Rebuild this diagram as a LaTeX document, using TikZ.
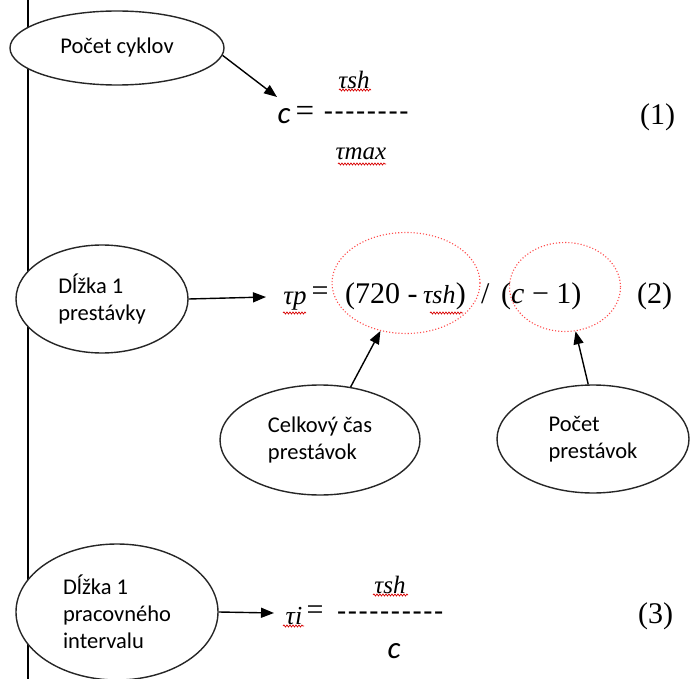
\documentclass[tikz,border=0pt]{standalone}
\usepackage{fontspec}
\newfontfamily\carl{Carlito}
\newfontfamily\tms{Liberation Serif}
\usetikzlibrary{shapes.geometric,arrows.meta,decorations.pathmorphing}
\newcommand\hy{-\kern1.6pt}
\begin{document}
\begin{tikzpicture}[x=1pt,y=-1pt,
  oval/.style={ellipse,draw=black!85,fill=white,line width=1.4pt,inner sep=0pt,align=left,font=\carl\fontsize{22.5}{27}\selectfont},
  hole/.style={ellipse,draw=red!70,dotted,line width=1.1pt,inner sep=0pt},
  arr/.style={-{Triangle[length=13pt,width=10pt]},line width=1.4pt},
  ser/.style={inner sep=0pt,font=\tms\fontsize{30}{30}\selectfont},
  tau/.style={inner sep=0pt,font=\tms\itshape\fontsize{25}{25}\selectfont},
  san/.style={inner sep=0pt,font=\carl\fontsize{30}{30}\selectfont},
  sq/.style={red!85!black,line width=0.7pt,decorate,decoration={snake,amplitude=1pt,segment length=3pt}},
]
\useasboundingbox (0,0) rectangle (691,679);
\fill[white] (0,0) rectangle (691,679);
% vertical rule
\coordinate (vtop) at (28,0);
\coordinate (vbot) at (28,679);
\draw[line width=1.4pt] (vtop) -- (vbot);

% ---------- equation (1)
\node[oval,minimum width=214pt,minimum height=74pt] (e1) at (117,48) {Počet cyklov};
\node[san,font=\carl\itshape\fontsize{31}{31}\selectfont] (c1) at (284,116) {c};
\node[ser,font=\tms\fontsize{33}{33}\selectfont] (eqa) at (305,114) {=};
\node[san] (d1) at (367,117) {\hy\hy\hy\hy\hy\hy\hy\hy};
\node[tau] (n1) at (354,80) {τsh};
\node[tau] (m1) at (361,154) {τmax};
\node[ser,anchor=base west] (l1) at (640,125) {(1)};
\coordinate (t1) at (277,97);
\draw[arr] (e1.-4) -- (t1);
\draw[sq] (339,90) -- (371,90);
\draw[sq] (338,164) -- (386,164);

% ---------- equation (2)
\node[oval,minimum width=172pt,minimum height=108pt] (e2) at (102,299) {Dĺžka 1\\prestávky};
\node[tau,font=\tms\itshape\fontsize{27}{27}\selectfont] (tp) at (295,301) {τp};
\node[ser] (eqb) at (320,294) {=};
\node[ser,anchor=base west] (a2) at (345,303) {(720 -\,};
\node[tau,anchor=base west,font=\tms\itshape\fontsize{26}{26}\selectfont] (b2) at (a2.base east) {τsh};
\node[ser,anchor=base west] (c2) at (b2.base east) {)};
\node[ser,anchor=base west] (s2) at (481,303) {/};
\node[ser,anchor=base west] (f2) at (501,303) {(\textit{c} − 1)};
\node[ser,anchor=base west] (l2) at (637,303) {(2)};
\coordinate (t2) at (266,297);
\draw[arr] (e2.east) -- (t2);
\draw[sq] (283,313) -- (306,313);
\draw[sq] (430,313) -- (463,313);
\node[hole,minimum width=148pt,minimum height=101pt] (o1) at (406,283) {};
\node[hole,minimum width=111pt,minimum height=89pt] (o2) at (565,287) {};
\node[oval,minimum width=200pt,minimum height=110pt] (e4) at (320,440) {Celkový čas\\prestávok};
\node[oval,minimum width=192pt,minimum height=108pt] (e5) at (593,439) {Počet\\prestávok};
\draw[arr] (e4.60) -- (o1);
\draw[arr] (e5.95) -- (o2);

% ---------- equation (3)
\node[oval,minimum width=202pt,minimum height=136pt] (e3) at (117,612) {Dĺžka 1\\pracovného\\intervalu};
\node[tau,font=\tms\itshape\fontsize{26}{26}\selectfont] (ti) at (294,616) {τi};
\node[ser] (eqc) at (315,613) {=};
\node[san] (d3) at (391,617) {\hy\hy\hy\hy\hy\hy\hy\hy\hy\hy};
\node[tau] (n3) at (390,585) {τsh};
\node[san,font=\carl\itshape\fontsize{31}{31}\selectfont] (c3) at (394,651) {c};
\node[ser,anchor=base west] (l3) at (638,623) {(3)};
\coordinate (t3) at (274,613);
\draw[arr] (e3.east) -- (t3);
\draw[sq] (283,626) -- (304,626);
\draw[sq] (373,595) -- (408,595);
\end{tikzpicture}
\end{document}
